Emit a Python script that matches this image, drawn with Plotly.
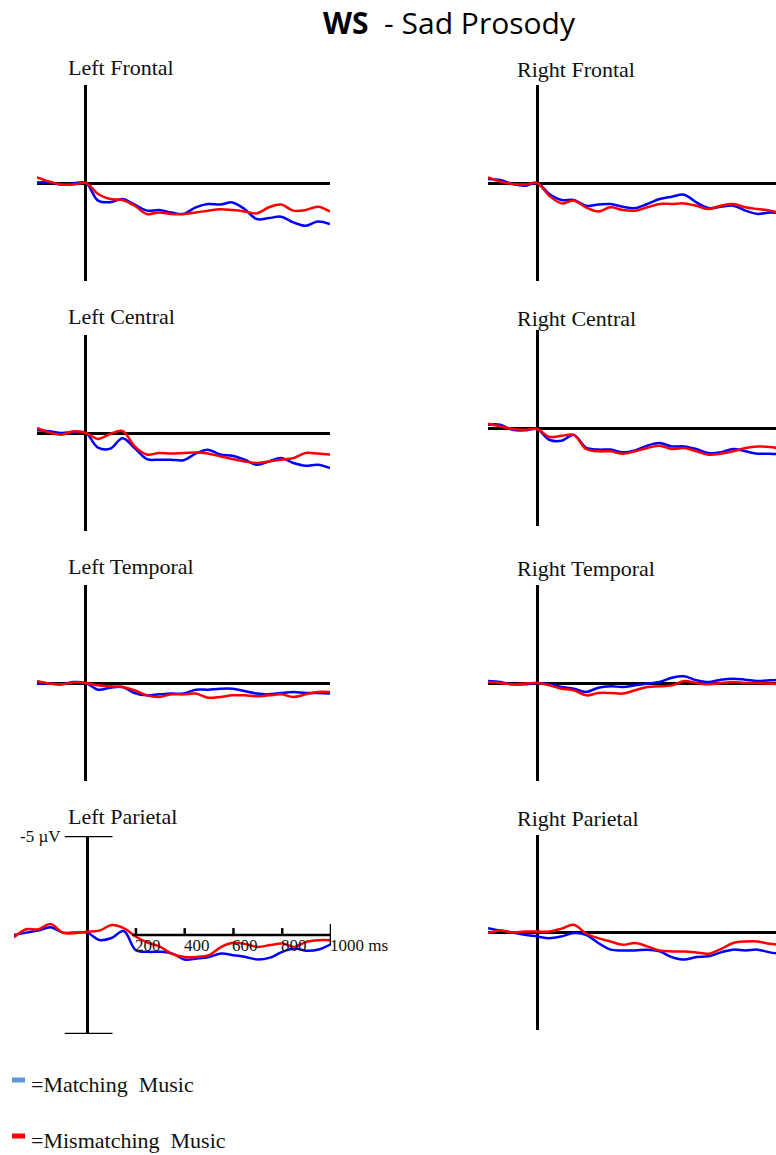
import plotly.graph_objects as go

# ---------------- data ----------------
times = [-200, -150, -100, -50, 0, 50, 100, 150, 200, 250, 300, 350, 400,
         450, 500, 550, 600, 650, 700, 750, 800, 850, 900, 950, 1000]
times_lp = [-300, -250] + times

panel_titles = ["Left Frontal", "Right Frontal", "Left Central", "Right Central",
                "Left Temporal", "Right Temporal", "Left Parietal", "Right Parietal"]
series_names = ["Matching Music", "Mismatching Music"]

lf_match = [-0.03, -0.03, 0.08, 0.02, 0, 0.9, 0.98, 0.82, 1.1, 1.41, 1.38, 1.5, 1.58,
            1.24, 1.07, 1.1, 0.99, 1.33, 1.84, 1.79, 1.72, 2.01, 2.18, 1.96, 2.09]
lf_mismatch = [-0.29, -0.08, 0.08, 0.08, 0, 0.56, 0.82, 0.87, 1.16, 1.58, 1.5, 1.58, 1.58,
               1.5, 1.41, 1.34, 1.38, 1.45, 1.55, 1.24, 1.1, 1.41, 1.38, 1.21, 1.45]
rf_match = [-0.2, -0.15, 0.05, 0.14, 0, 0.56, 0.87, 0.87, 1.16, 1.1, 1.07, 1.21, 1.28,
            1.07, 0.82, 0.7, 0.6, 0.99, 1.28, 1.21, 1.16, 1.41, 1.58, 1.5, 1.55]
rf_mismatch = [-0.29, -0.08, 0.05, 0.08, 0, 0.65, 1.04, 0.9, 1.24, 1.45, 1.24, 1.38, 1.41,
               1.24, 1.07, 1.07, 1.04, 1.16, 1.33, 1.16, 1.07, 1.24, 1.33, 1.41, 1.58]
lc_match = [-0.14, -0.09, 0, -0.05, 0, 0.75, 0.8, 0.27, 0.77, 1.33, 1.36, 1.36, 1.39,
            1.05, 0.85, 1.1, 1.16, 1.36, 1.62, 1.45, 1.28, 1.53, 1.67, 1.62, 1.79]
lc_mismatch = [-0.26, -0.03, 0.09, -0.09, 0, 0.3, 0.05, -0.1, 0.68, 1.1, 1.02, 1.05, 1.02,
               0.99, 1.05, 1.19, 1.33, 1.45, 1.53, 1.45, 1.36, 1.28, 1.02, 1.05, 1.1]
rc_match = [-0.17, -0.17, 0.09, 0.12, 0.05, 0.6, 0.65, 0.35, 1.0, 1.1, 1.1, 1.24, 1.14,
            0.9, 0.77, 0.94, 0.94, 1.07, 1.28, 1.24, 1.07, 1.19, 1.31, 1.31, 1.36]
rc_mismatch = [-0.22, -0.09, 0.05, 0.09, 0.05, 0.45, 0.4, 0.35, 1.07, 1.19, 1.19, 1.31, 1.19,
               1.02, 0.9, 1.07, 1.02, 1.19, 1.36, 1.31, 1.19, 1.02, 0.94, 0.97, 1.07]
lt_match = [0.03, 0.03, 0.07, -0.05, 0, 0.34, 0.24, 0.2, 0.51, 0.63, 0.58, 0.54, 0.54,
            0.34, 0.34, 0.29, 0.29, 0.41, 0.54, 0.58, 0.51, 0.46, 0.51, 0.51, 0.54]
lt_mismatch = [-0.1, 0.03, 0.07, -0.03, 0, 0.12, 0.17, 0.2, 0.37, 0.63, 0.71, 0.58, 0.58,
               0.54, 0.75, 0.71, 0.63, 0.63, 0.68, 0.63, 0.58, 0.71, 0.58, 0.46, 0.46]
rt_match = [-0.1, -0.05, 0.07, 0.07, 0, 0.07, 0.2, 0.29, 0.46, 0.24, 0.17, 0.2, 0.12,
            0.03, -0.05, -0.27, -0.34, -0.14, -0.05, -0.17, -0.22, -0.17, -0.1, -0.14, -0.17]
rt_mismatch = [-0.05, 0, 0.07, 0.03, 0, 0.12, 0.29, 0.37, 0.63, 0.51, 0.51, 0.54, 0.37,
               0.2, 0.17, 0.12, -0.1, 0, 0.07, 0, -0.05, 0, 0, 0.03, 0.07]
lp_match = [0, -0.12, -0.22, -0.39, -0.12, -0.12, -0.12, 0.25, 0.15, -0.2, 0.77, 0.85, 0.85,
            0.94, 1.24, 1.19, 1.11, 0.94, 1.02, 1.11, 1.24, 1.14, 0.85, 0.68, 0.8, 0.73, 0.46]
lp_mismatch = [0.12, -0.29, -0.29, -0.56, -0.12, -0.09, -0.17, -0.22, -0.5, -0.35, 0.09, 0.39,
               0.6, 0.97, 1.11, 1.11, 1.02, 0.6, 0.39, 0.46, 0.6, 0.51, 0.43, 0.6, 0.34, 0.26, 0.26]
rp_match = [-0.22, -0.1, 0, 0.12, 0.2, 0.29, 0.2, 0.03, 0.12, 0.54, 0.88, 0.92, 0.92,
            0.88, 0.97, 1.26, 1.39, 1.26, 1.22, 1.02, 0.88, 0.92, 0.88, 1.02, 1.09]
rp_mismatch = [0.03, -0.1, 0, -0.05, -0.05, -0.05, -0.2, -0.4, 0.05, 0.29, 0.46, 0.63, 0.54,
               0.71, 0.92, 0.97, 0.97, 1.02, 1.09, 0.85, 0.54, 0.46, 0.46, 0.58, 0.63]

scale_ticks_ms = [200, 400, 600, 800, 1000]
scale_uv = 5

# ---------------- layout helpers ----------------
W, H = 776, 1155
SERIF = "Liberation Serif, Times New Roman, serif"
BLUE, RED = "#0000ff", "#ff0000"


def px(x):
    return x / W


def py(y):
    return 1 - y / H


panel_data = [
    (times, lf_match, lf_mismatch), (times, rf_match, rf_mismatch),
    (times, lc_match, lc_mismatch), (times, rc_match, rc_mismatch),
    (times, lt_match, lt_mismatch), (times, rt_match, rt_mismatch),
    (times_lp, lp_match, lp_mismatch), (times, rp_match, rp_mismatch),
]

# (x-left px, x-right px, x range, top px, bottom px, title x px, title y px)
panel_geom = [
    (37, 330, [-200, 1000], 85, 281, 67, 68),
    (488, 776, [-200, 975], 85, 281, 516, 70),
    (37, 330, [-200, 1000], 335, 531, 67, 316),
    (488, 776, [-200, 975], 330, 526, 516, 318),
    (37, 330, [-200, 1000], 585, 781, 67, 566),
    (488, 776, [-200, 975], 585, 781, 516, 568),
    (14, 331, [-300, 1000], 836, 1034, 67, 816),
    (488, 776, [-200, 975], 835, 1030, 516, 818),
]

fig = go.Figure()
annotations = []
shapes = []

for i, ((t, m, mm), geom, title) in enumerate(zip(panel_data, panel_geom, panel_titles)):
    n = i + 1
    xl, xr, xrng, top, bot, tx, ty = geom
    xa = "x" if n == 1 else f"x{n}"
    ya = "y" if n == 1 else f"y{n}"
    for vals, col, name in ((m, BLUE, series_names[0]), (mm, RED, series_names[1])):
        fig.add_trace(go.Scatter(x=t, y=vals, mode="lines", name=name, xaxis=xa, yaxis=ya,
                                 line=dict(color=col, width=2.5, shape="spline", smoothing=1.0),
                                 showlegend=False))
    is_lp = title == "Left Parietal"
    fig.update_layout(**{
        ("xaxis" if n == 1 else f"xaxis{n}"): dict(
            domain=[px(xl), min(px(xr), 1)], range=xrng, anchor=ya,
            showgrid=False, showticklabels=False, ticks="", showline=False,
            zeroline=True, zerolinecolor="black", zerolinewidth=2.5, fixedrange=True),
        ("yaxis" if n == 1 else f"yaxis{n}"): dict(
            domain=[py(bot), py(top)], range=[scale_uv, -scale_uv], anchor=xa,
            showgrid=False, showticklabels=False, ticks="", showline=False,
            zeroline=not is_lp, zerolinecolor="black", zerolinewidth=2.5, fixedrange=True),
    })
    annotations.append(dict(text=title, x=px(tx - 1), y=py(ty), xref="paper", yref="paper",
                            xanchor="left", yanchor="middle", showarrow=False,
                            font=dict(family=SERIF, size=22, color="#111")))
    if is_lp:
        # scale bar: horizontal axis, ticks, vertical caps and labels
        shapes.append(dict(type="line", xref=xa, yref=ya, x0=185, x1=scale_ticks_ms[-1],
                           y0=0, y1=0, line=dict(color="black", width=2.5)))
        for tk in scale_ticks_ms:
            big = tk == scale_ticks_ms[-1]
            shapes.append(dict(type="line", xref=xa, yref=ya, x0=tk, x1=tk,
                               y0=(0.5 if big else 0), y1=(-0.55 if big else -0.35),
                               line=dict(color="black", width=2.5)))
            annotations.append(dict(text=(f"{tk}\u00a0ms" if big else str(tk)), x=tk, y=0,
                                    xref=xa, yref=ya, xanchor="left", yanchor="middle",
                                    yshift=-10, xshift=-3, showarrow=False,
                                    font=dict(family=SERIF, size=17, color="#111")))
        for yv in (-scale_uv, scale_uv):
            shapes.append(dict(type="line", xref=xa, yref=ya, x0=-92, x1=104, y0=yv, y1=yv,
                               line=dict(color="black", width=2.5)))
        annotations.append(dict(text=f"-{scale_uv} \u00b5V", x=-92, y=-scale_uv, xref=xa, yref=ya,
                                xanchor="right", yanchor="middle", xshift=-2, showarrow=False,
                                font=dict(family=SERIF, size=17, color="#111")))

# main title
annotations.append(dict(text="<b>WS</b>\u00a0\u00a0- Sad Prosody", x=px(449), y=py(22),
                        xref="paper", yref="paper", xanchor="center", yanchor="middle",
                        showarrow=False, font=dict(family="Open Sans, sans-serif", size=30,
                                                   color="black")))

# legend
legend_items = [(series_names[0], "#5b9bd5", 1080), (series_names[1], "#ff0000", 1136)]
for name, col, yy in legend_items:
    shapes.append(dict(type="rect", xref="paper", yref="paper", x0=px(12), x1=px(25),
                       y0=py(yy + 2.5), y1=py(yy - 2.5), fillcolor=col, line=dict(width=0)))
    annotations.append(dict(text="=" + name.replace(" ", "\u00a0\u00a0"), x=px(29), y=py(yy + 4),
                            xref="paper", yref="paper", xanchor="left", yanchor="middle",
                            showarrow=False, font=dict(family=SERIF, size=22, color="#111")))

fig.update_layout(width=W, height=H, margin=dict(l=0, r=0, t=0, b=0),
                  paper_bgcolor="white", plot_bgcolor="white",
                  annotations=annotations, shapes=shapes, showlegend=False)

fig.write_html("out.html", config={"displayModeBar": False},
               post_script="document.body.style.margin='0px';document.body.style.overflow='hidden';")
